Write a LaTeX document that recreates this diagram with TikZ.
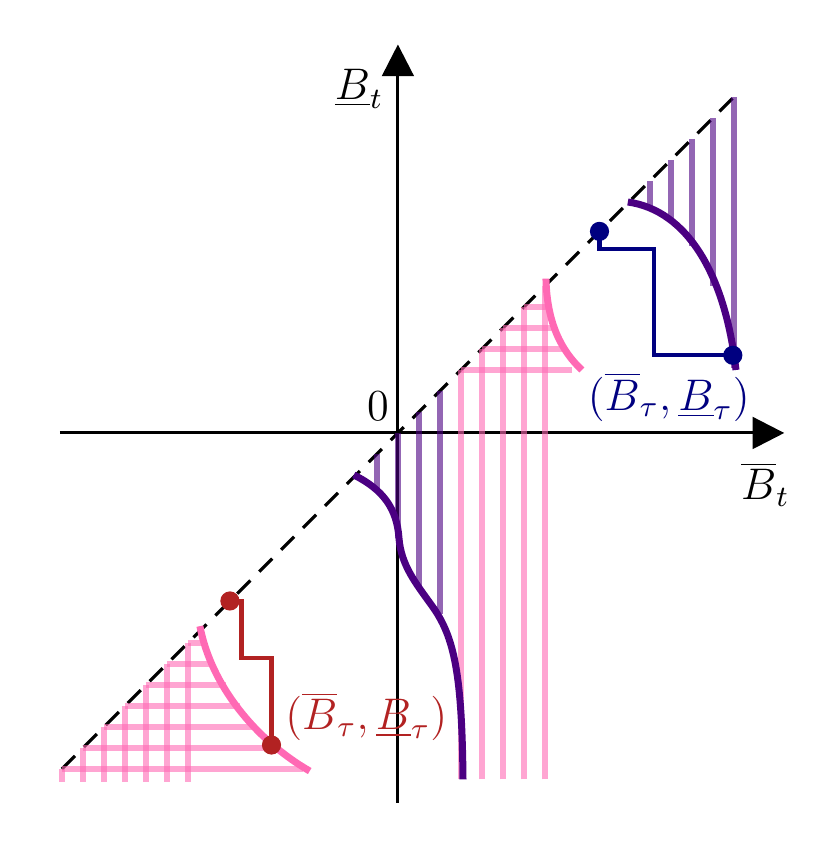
\documentclass[tikz,border=0pt]{standalone}
\usepackage{tikz}
\usetikzlibrary{arrows.meta}

\definecolor{stoppink}{RGB}{255,105,180}
\definecolor{pathpurple}{RGB}{75,0,130}
\definecolor{walkblue}{RGB}{0,0,128}
\definecolor{walkred}{RGB}{178,34,34}

\tikzset{
	axis/.style={line width=0.8pt, -{Triangle[length=8.6pt, width=8.6pt]}},
	pinkbar/.style={stoppink, opacity=0.6, line width=1.6pt},
	purplebar/.style={pathpurple, opacity=0.6, line width=1.6pt},
	boundary/.style={line width=1.9pt},
	walk/.style={line width=1.2pt},
	dot/.style={circle, fill, inner sep=0pt, minimum size=5.2pt}
}

\begin{document}
\begin{tikzpicture}[x=0.2cm, y=0.2cm]
		\useasboundingbox (-18.95, -20.67) rectangle (20.57, 20.62);
		
		\draw[axis] (-16.1, 0) -- (18.4, 0);
		\draw[axis] (0, -17.6) -- (0, 18.5);
		\draw[line width=0.85pt, dash pattern=on 5pt off 3.4pt] (-16, -16) -- (16.1, 16.1);
		
		\node (origin) at (-0.95, 1.25) {\large $0$};
		\node (ylabel) at (-1.85, 16.4) {\large $\underline{B}_t$};
		\node (xlabel) at (17.5, -2.45) {\large $\overline{B}_t$};
		
		% stopping region, upper right
		\foreach \x in {3, ..., 7}
			\draw[pinkbar] (\x, -16.5) -- (\x, \x);
		\foreach \y/\e in {3/8.3, 4/7.8, 5/7.35, 6/7.1}
			\draw[pinkbar] (\y, \y) -- (\e, \y);
		\draw[stoppink, boundary] (7.05, 7.35) .. controls (7.1, 5.2) and (7.8, 3.9) .. (8.76, 3.0);
		
		% stopping region, lower left
		\foreach \x in {-16, ..., -10}
			\draw[pinkbar] (\x, -16.6) -- (\x, \x);
		\foreach \y/\e in {-10/-9.3, -11/-8.8, -12/-8.2, -13/-7.5, -14/-6.75, -15/-5.95, -16/-4.5}
			\draw[pinkbar] (\y, \y) -- (\e, \y);
		\draw[stoppink, boundary] (-9.43, -9.2) .. controls (-8.9, -12) and (-6.8, -14.6) .. (-4.2, -16.1);
		
		% continuation bars
		\foreach \x/\e in {-1/-2.75, 0/-5, 1/-7.3, 2/-8.6}
			\draw[purplebar] (\x, \x) -- (\x, \e);
		\foreach \x/\e in {12/10.7, 13/10.1, 14/8.9, 15/7.0, 16/3.1}
			\draw[purplebar] (\x, \x) -- (\x, \e);
		\draw[pathpurple, boundary] (-2.1, -2.0) .. controls (-0.7, -2.7) and (-0.05, -3.6) .. (0.05, -5.0)
			.. controls (0.15, -6.3) and (0.85, -7.15) .. (1.6, -8.2)
			.. controls (2.7, -9.7) and (3.05, -11.5) .. (3.1, -16.5);
		\draw[pathpurple, boundary] (10.95, 11.0) .. controls (13.8, 10.6) and (15.6, 7.5) .. (16.1, 3.0);
		
		% sample paths
		\node[dot, walkblue] (bstart) at (9.6, 9.6) {};
		\node[dot, walkblue] (bstop) at (15.95, 3.7) {};
		\draw[walkblue, walk] (bstart.center) |- (12.2, 8.75) |- (bstop.center);
		\node[walkblue, anchor=north] (blabel) at (12.9, 3.5) {\large $(\overline{B}_\tau, \underline{B}_\tau)$};
		
		\node[dot, walkred] (rstart) at (-8, -8) {};
		\node[dot, walkred] (rstop) at (-6.02, -14.86) {};
		\draw[walkred, walk] (rstart.center) -| (-7.44, -10.73) -| (rstop.center);
		\node[walkred, anchor=west] (rlabel) at (-5.98, -13.5) {\large $(\overline{B}_\tau, \underline{B}_\tau)$};
	\end{tikzpicture}
\end{document}
